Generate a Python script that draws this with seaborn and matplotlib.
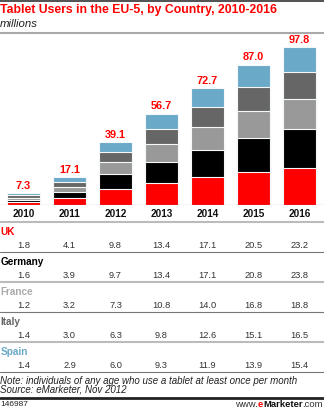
import matplotlib
matplotlib.use("Agg")
import matplotlib.pyplot as plt
import matplotlib.transforms as mtransforms
from matplotlib.lines import Line2D
import numpy as np
import pandas as pd
import seaborn as sns

# ---- data ----
years = ["2010", "2011", "2012", "2013", "2014", "2015", "2016"]
totals = [7.3, 17.1, 39.1, 56.7, 72.7, 87.0, 97.8]
countries = ["UK", "Germany", "France", "Italy", "Spain"]
uk = [1.8, 4.1, 9.8, 13.4, 17.1, 20.5, 23.2]
germany = [1.6, 3.9, 9.7, 13.4, 17.1, 20.8, 23.8]
france = [1.2, 3.2, 7.3, 10.8, 14.0, 16.8, 18.8]
italy = [1.4, 3.0, 6.3, 9.8, 12.6, 15.1, 16.5]
spain = [1.4, 2.9, 6.0, 9.3, 11.9, 13.9, 15.4]
series = [uk, germany, france, italy, spain]

bar_colors = ["#ff0000", "#000000", "#999999", "#666666", "#6aa9c8"]
label_colors = ["#ff0000", "#000000", "#aaaaaa", "#666666", "#6aa9c8"]

title = "Tablet Users in the EU-5, by Country, 2010-2016"
subtitle = "millions"
note = "Note: individuals of any age who use a tablet at least once per month"
source = "Source: eMarketer, Nov 2012"
chart_id = "146987"

sns.set_style("white")
plt.rcParams["font.family"] = ["Liberation Sans", "DejaVu Sans"]

W, H = 324, 409
fig = plt.figure(figsize=(W / 100, H / 100), dpi=100)


def fy(px):
    return 1 - px / H


def fx(px):
    return px / W


# ---- bars ----
base_px, top_px = 205, 35
ax = fig.add_axes([0, fy(base_px), 1, (base_px - top_px) / H])
df = pd.DataFrame({c: s for c, s in zip(countries, series)}, index=years)
cum = df.cumsum(axis=1)
for c, col in reversed(list(zip(countries, bar_colors))):
    sns.barplot(x=years, y=cum[c].values, color=col, saturation=1,
                width=0.717, edgecolor="#f4f8fb", linewidth=0.8, ax=ax)

ax.set_xlim(-23.5 / 46, (W - 23.5) / 46)
ax.set_ylim(0, (base_px - top_px) / 1.613)
for s in ax.spines.values():
    s.set_visible(False)
ax.set_yticks([])
ax.tick_params(axis="x", length=0, pad=3)
ax.set_xticks(range(len(years)))
ax.set_xticklabels(years, fontsize=7.2, fontweight="bold", color="#111111")
ax.set_xlabel("")
ax.set_ylabel("")
ax.axhline(0, color="#555555", lw=0.8, zorder=5)

for i, t in enumerate(totals):
    ax.annotate(f"{t:.1f}", xy=(i, cum["Spain"].values[i]), xytext=(0, 1.5),
                textcoords="offset points", ha="center", va="bottom",
                fontsize=7.8, fontweight="bold", color="#ff0000")

# ---- header ----
fig.add_artist(Line2D([0, 1], [fy(0.5), fy(0.5)], color="#333333", lw=1.2))
fig.text(fx(0), fy(10.5), title, fontsize=8.8, fontweight="bold",
         color="#ff0000", va="center", ha="left")
fig.text(fx(0), fy(24), subtitle, fontsize=8.2, style="italic",
         color="#222222", va="center", ha="left")
fig.add_artist(Line2D([0, 1], [fy(32.5), fy(32.5)], color="#aaaaaa", lw=1.5))

# ---- table ----
trans = mtransforms.blended_transform_factory(ax.transData, fig.transFigure)
for k in range(6):
    y = 222 + 30 * k
    if k % 2 == 0:
        fig.add_artist(Line2D([0, 1], [fy(y), fy(y)], color="#bbbbbb", lw=1.5))
    else:
        fig.add_artist(Line2D([0, 1], [fy(y), fy(y)], color="#777777", lw=0.8))

for r, (c, s, lc) in enumerate(zip(countries, series, label_colors)):
    fig.text(fx(0.5), fy(232 + 30 * r), c, fontsize=7.2, fontweight="bold",
             color=lc, va="center", ha="left")
    for j, v in enumerate(s):
        fig.text(j, fy(245.5 + 30 * r), f"{v:.1f}", transform=trans,
                 fontsize=6.7, color="#333333", va="center", ha="center")

# ---- footer ----
fig.text(fx(0), fy(380.5), note, fontsize=7.0, style="italic",
         color="#222222", va="center", ha="left")
fig.text(fx(0), fy(389.5), source, fontsize=7.0, style="italic",
         color="#222222", va="center", ha="left")
fig.add_artist(Line2D([0, 1], [fy(398), fy(398)], color="#222222", lw=2))
fig.text(fx(0.5), fy(404.5), chart_id, fontsize=6.0, color="#222222",
         va="center", ha="left")

# www.eMarketer.com, built right to left
renderer = fig.canvas.get_renderer()
parts = [("www.", "normal", "#333333"), ("e", "bold", "#ff0000"),
         ("Marketer", "bold", "#111111"), (".com", "normal", "#333333")]
xr = W - 1.0
for txt, wt, col in reversed(parts):
    t = fig.text(fx(xr), fy(404.5), txt, fontsize=6.8, fontweight=wt,
                 color=col, va="center", ha="right")
    wpx = t.get_window_extent(renderer=renderer).width
    xr -= wpx

fig.savefig("out.png", dpi=100)
